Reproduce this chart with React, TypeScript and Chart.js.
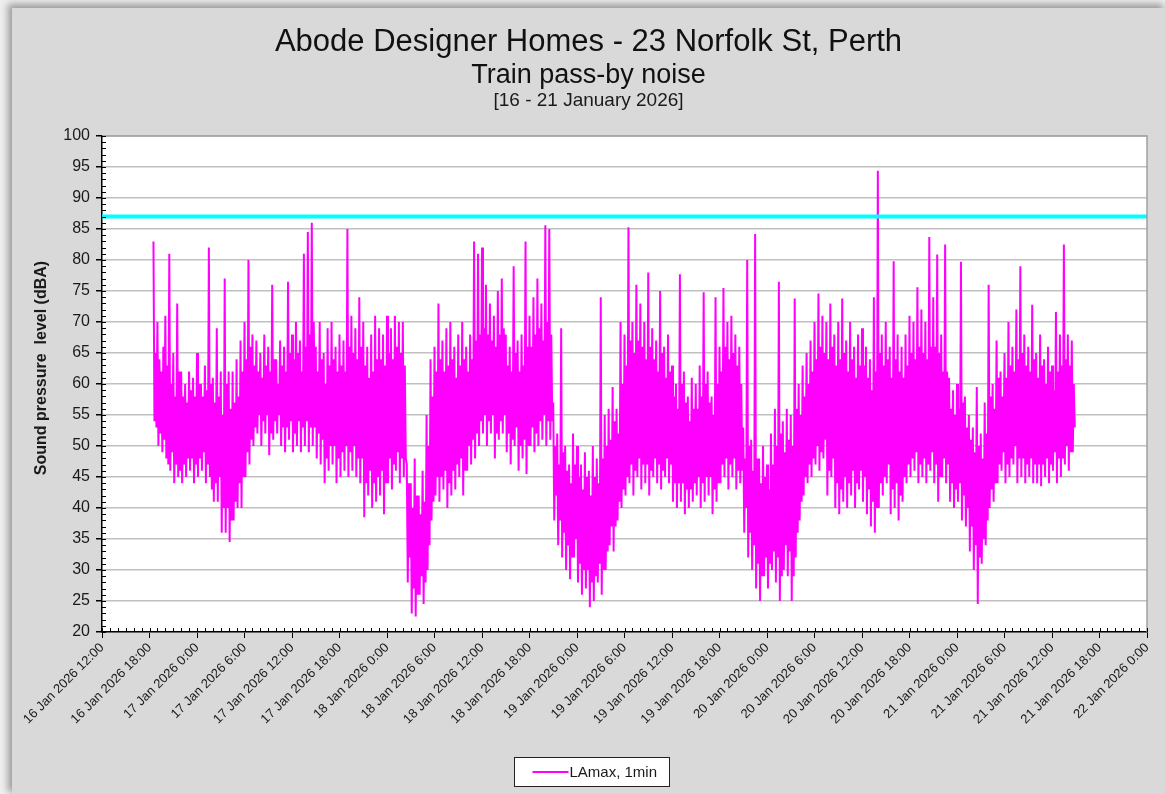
import React, { useEffect, useRef } from "react";
import { Chart, registerables } from "chart.js";

Chart.register(...registerables);

const titleLines = [
  "Abode Designer Homes - 23 Norfolk St, Perth",
  "Train pass-by noise",
  "[16 - 21 January 2026]",
];
const yAxisTitle = "Sound pressure  level (dBA)";
const legendLabel = "LAmax, 1min";

// x axis: hours counted from 16 Jan 2026 12:00
const xTickLabels = [
  "16 Jan 2026 12:00", "16 Jan 2026 18:00",
  "17 Jan 2026 0:00", "17 Jan 2026 6:00", "17 Jan 2026 12:00", "17 Jan 2026 18:00",
  "18 Jan 2026 0:00", "18 Jan 2026 6:00", "18 Jan 2026 12:00", "18 Jan 2026 18:00",
  "19 Jan 2026 0:00", "19 Jan 2026 6:00", "19 Jan 2026 12:00", "19 Jan 2026 18:00",
  "20 Jan 2026 0:00", "20 Jan 2026 6:00", "20 Jan 2026 12:00", "20 Jan 2026 18:00",
  "21 Jan 2026 0:00", "21 Jan 2026 6:00", "21 Jan 2026 12:00", "21 Jan 2026 18:00",
  "22 Jan 2026 0:00",
];
const xMin = 0;
const xMax = 132;
const xStep = 6;
const yMin = 20;
const yMax = 100;
const yStep = 5;

const limitLevel = 87;

// LAmax,1min read per 15-minute interval (highest, lowest), from 16 Jan 18:30
const seriesStartHour = 6.5;
const binHours = 0.25;
const binMax = [
  83, 65,
  70, 64, 62, 66, 71, 63, 81, 60, 65, 58, 73, 62, 62, 58, 60, 57, 62, 59, 61, 58,
  65, 60, 60, 58, 63, 59, 82, 60, 61, 57, 69, 58, 62, 55, 77, 60, 62, 56, 62, 57,
  64, 58, 67, 62, 70, 64, 80, 66, 68, 63, 67, 62, 65, 61, 68, 63, 66, 62, 76, 64,
  64, 60, 67, 63, 66, 62, 76.5, 65, 68, 64, 70, 65, 67, 62, 81, 66, 84.5, 68, 86, 70,
  66, 62, 70, 64, 65, 60, 69, 63, 70, 64, 66, 62, 68, 63, 67, 62, 85, 66, 71, 65,
  69, 64, 74, 66, 70, 63, 66, 61, 68, 62, 71, 64, 69, 64, 68, 63, 71, 65, 69, 64,
  71, 66, 70, 65, 70, 63, 47, 44, 44, 40, 48, 42, 42, 39, 46, 41, 55, 50, 64, 58,
  66, 62, 73, 64, 67, 62, 69, 63, 70, 64, 66, 61, 68, 63, 70, 64, 66, 62, 68, 64,
  83, 67, 81, 68, 82, 69, 76, 68, 73, 67, 71, 66, 75, 68, 77, 69, 68, 63, 66, 62,
  79, 65, 67, 62, 68, 63, 83, 66, 71, 66, 74, 68, 77, 69, 73, 67, 85.6, 70, 85, 68,
  57, 50, 52, 47, 69, 49, 50, 46, 47, 44, 52, 47, 50, 45, 47, 43, 49, 45, 46, 42,
  50, 45, 48, 44, 74, 48, 55, 50, 56, 51, 59.5, 54, 56, 52, 70, 60, 68, 63, 85.3, 67,
  70, 65, 76, 67, 73, 66, 70, 64, 78, 66, 69, 64, 67, 62, 75, 65, 66, 61, 68, 62,
  63, 58, 60, 56, 77.7, 60, 62, 57, 58, 54, 61, 56, 60, 56, 63, 58, 74.8, 60, 62, 57,
  58, 55, 74, 60, 66, 62, 75.5, 66, 70, 64, 71, 65, 68, 63, 66, 60, 53, 48, 80, 50,
  51, 46, 84.2, 48, 48, 44, 50, 45, 47, 43, 52, 47, 56, 50, 76.5, 52, 54, 49, 56, 51,
  55, 50, 73.8, 56, 60, 55, 63, 58, 65, 60, 67, 62, 70, 64, 74.6, 66, 71, 65, 70, 64,
  73, 66, 68, 63, 70, 64, 73.8, 65, 67, 62, 70, 64, 66, 61, 68, 63, 69, 63, 66, 61,
  64, 59, 74, 62, 94.4, 65, 68, 63, 70, 64, 66, 61, 79.8, 64, 68, 62, 66, 61, 68, 63,
  71, 65, 70, 64, 75.6, 66, 72, 65, 70, 64, 83.7, 66, 74, 66, 80.9, 65, 68, 62, 82.5, 62,
  61, 56, 59, 55, 60, 56, 79.7, 57, 58, 53, 55, 51, 53, 49, 59.5, 50, 52, 48, 57, 52,
  76, 58, 60, 56, 67, 61, 62, 58, 65, 61, 70, 63, 66, 62, 72, 64, 79, 65, 68, 63,
  66, 62, 72.8, 64, 65, 61, 68, 63, 64, 60, 66, 62, 63, 59, 71.6, 62, 68, 63, 82.5, 64,
  68, 63, 67, 60,
];
const binMin = [
  54, 53,
  50, 52, 49, 51, 48, 47, 46, 49, 44, 47, 45, 46, 44, 47, 45, 48, 46, 48, 44, 47,
  45, 48, 46, 49, 44, 47, 45, 43, 41, 44, 41, 45, 36, 40, 36, 40, 34.5, 38, 38, 41,
  40, 44, 40, 45, 45, 49, 47, 51, 50, 53, 52, 55, 50, 54, 52, 55, 48.5, 52, 51, 54,
  52, 55, 50, 53, 49, 53, 51, 54, 49, 52, 50, 54, 49, 53, 50, 54, 49, 53, 50, 53,
  48, 52, 47, 51, 44, 48, 46, 50, 47, 50, 44, 48, 45, 49, 46, 50, 45, 49, 46, 50,
  45, 48, 44, 48, 38.5, 44, 42, 46, 40, 44, 41, 45, 42, 46, 39, 44, 44, 48, 43, 47,
  46, 49, 44, 48, 45, 48, 28, 32, 23, 27, 22.5, 26, 26, 29, 24.5, 28, 30, 34, 38, 41,
  42, 45, 41, 45, 43, 46, 40, 44, 42, 46, 43, 47, 45, 48, 42, 46, 46, 50, 47, 51,
  48, 52, 50, 54, 52, 55, 50, 54, 52, 55, 48, 52, 51, 54, 52, 55, 49, 52, 47, 51,
  50, 53, 46, 50, 48, 51, 45.5, 50, 50, 53, 49, 52, 50, 54, 51, 55, 50, 54, 51, 54,
  38, 42, 34, 38, 32, 36, 30, 34, 28.5, 32, 32, 35, 28, 31, 26, 30, 27, 30, 24, 28,
  25, 29, 28, 31, 26, 30, 30, 33, 34, 37, 33, 37, 38, 41, 40, 43, 42, 45, 44, 47,
  42, 46, 45, 48, 43, 47, 44, 47, 42, 46, 45, 48, 44, 47, 43, 46, 45, 48, 44, 47,
  41, 44, 40, 44, 41, 44, 39, 43, 40, 43, 41, 44, 42, 45, 40, 44, 41, 45, 42, 45,
  39, 43, 41, 44, 44, 47, 45, 48, 43, 47, 45, 48, 43, 46, 44, 46, 36, 40, 32, 36,
  30, 34, 27, 31, 25, 29, 29, 32, 27, 31, 30, 33, 28, 32, 25, 29, 30, 34, 29, 33,
  25, 29, 32, 36, 38, 41, 42, 45, 44, 47, 45, 48, 47, 50, 46, 49, 48, 51, 42, 46,
  45, 48, 40, 44, 39, 43, 41, 45, 40, 44, 42, 46, 40, 44, 43, 46, 41, 45, 39, 43,
  37, 41, 36, 40, 40, 44, 42, 45, 44, 47, 39, 43, 40, 44, 38, 42, 41, 45, 44, 47,
  45, 48, 46, 49, 44, 47, 45, 48, 44, 47, 46, 49, 44, 47, 41, 45, 45, 48, 44, 47,
  41, 44, 40, 43, 41, 44, 38, 42, 37, 40, 33, 37, 30, 34, 24.5, 32, 31, 35, 34, 38,
  40, 43, 41, 44, 44, 47, 46, 49, 44, 47, 45, 48, 47, 50, 44, 48, 45, 48, 44, 47,
  45, 48, 44, 47, 44, 47, 43.5, 47, 45, 48, 44, 47, 46, 49, 44, 48, 45, 48, 47, 50,
  46, 49, 49, 53,
];

const FONT = "'Liberation Sans', Arial, sans-serif";

function buildSeries() {
  const pts: { x: number; y: number }[] = [];
  binMax.forEach((hi, i) => {
    const t = seriesStartHour + i * binHours;
    pts.push({ x: t, y: hi });
    pts.push({ x: t + binHours / 2, y: binMin[i] });
  });
  return pts;
}

const decorPlugin = {
  id: "decor",
  beforeDraw(chart: any) {
    const { ctx, chartArea: a } = chart;
    ctx.save();
    ctx.fillStyle = "#ffffff";
    ctx.fillRect(a.left, a.top, a.right - a.left, a.bottom - a.top);
    ctx.restore();
  },
  afterDraw(chart: any) {
    const { ctx, chartArea: a } = chart;
    const xs = chart.scales.x;
    const ys = chart.scales.y;
    ctx.save();
    // top & right frame
    ctx.strokeStyle = "#a0a0a0";
    ctx.lineWidth = 1.5;
    ctx.beginPath();
    ctx.moveTo(a.left, a.top);
    ctx.lineTo(a.right, a.top);
    ctx.lineTo(a.right, a.bottom);
    ctx.stroke();
    // minor ticks
    ctx.strokeStyle = "#000";
    ctx.lineWidth = 1;
    ctx.beginPath();
    for (let v = yMin; v <= yMax; v += 1) {
      const y = Math.round(ys.getPixelForValue(v)) + 0.5;
      ctx.moveTo(a.left, y);
      ctx.lineTo(a.left + 4, y);
    }
    for (let h = xMin; h <= xMax; h += 1) {
      const x = Math.round(xs.getPixelForValue(h)) + 0.5;
      ctx.moveTo(x, a.bottom);
      ctx.lineTo(x, a.bottom - 4);
    }
    ctx.stroke();

    // titles
    const cx = chart.width / 2;
    ctx.fillStyle = "#111";
    ctx.textAlign = "center";
    ctx.textBaseline = "alphabetic";
    ctx.font = `31px ${FONT}`;
    ctx.fillText(titleLines[0], cx, 43);
    ctx.font = `27px ${FONT}`;
    ctx.fillText(titleLines[1], cx, 75);
    ctx.font = `19px ${FONT}`;
    ctx.fillStyle = "#1a1a1a";
    ctx.fillText(titleLines[2], cx, 98);

    // y axis title
    ctx.save();
    ctx.translate(29.5, 360);
    ctx.rotate(-Math.PI / 2);
    ctx.font = `bold 16px ${FONT}`;
    ctx.fillStyle = "#1a1a1a";
    ctx.textAlign = "center";
    ctx.textBaseline = "middle";
    ctx.fillText(yAxisTitle, 0, 0);
    ctx.restore();

    // legend
    const lx = Math.round(cx - 75) + 0.5;
    const ly = 749.5;
    ctx.fillStyle = "#ffffff";
    ctx.fillRect(lx, ly, 155, 29);
    ctx.strokeStyle = "#222";
    ctx.lineWidth = 1;
    ctx.strokeRect(lx, ly, 155, 29);
    ctx.strokeStyle = "#ff00ff";
    ctx.lineWidth = 2;
    ctx.beginPath();
    ctx.moveTo(lx + 18, 764);
    ctx.lineTo(lx + 54, 764);
    ctx.stroke();
    ctx.fillStyle = "#1a1a1a";
    ctx.font = `15px ${FONT}`;
    ctx.textAlign = "left";
    ctx.textBaseline = "middle";
    ctx.fillText(legendLabel, lx + 55, 765);
    ctx.restore();
  },
};

export default function App() {
  const ref = useRef<HTMLCanvasElement | null>(null);

  useEffect(() => {
    if (!ref.current) return;
    const chart = new Chart(ref.current, {
      type: "line",
      data: {
        datasets: [
          {
            label: "Limit",
            data: [
              { x: xMin, y: limitLevel },
              { x: xMax, y: limitLevel },
            ],
            borderColor: "#00ffff",
            backgroundColor: "#00ffff",
            borderWidth: 4,
            pointRadius: 0,
          },
          {
            label: legendLabel,
            data: buildSeries(),
            borderColor: "#ff00ff",
            backgroundColor: "#ff00ff",
            borderWidth: 2,
            pointRadius: 0,
            tension: 0,
          },
        ],
      },
      options: {
        responsive: false,
        animation: false,
        devicePixelRatio: 1,
        layout: { padding: { top: 128, left: 0, right: 18, bottom: 52 } },
        plugins: {
          legend: { display: false },
          title: { display: false },
          tooltip: { enabled: false },
        },
        scales: {
          x: {
            type: "linear",
            min: xMin,
            max: xMax,
            afterFit: (s: any) => {
              s.height = 110;
            },
            afterBuildTicks: (s: any) => {
              s.ticks = xTickLabels.map((_, i) => ({ value: xMin + i * xStep }));
            },
            ticks: {
              autoSkip: false,
              maxRotation: 45,
              minRotation: 45,
              padding: 2,
              color: "#1a1a1a",
              font: { family: FONT, size: 13 },
              callback: (v: any) => xTickLabels[Math.round((Number(v) - xMin) / xStep)] ?? "",
            },
            grid: {
              drawOnChartArea: false,
              drawTicks: true,
              tickLength: 6,
              tickColor: "#000",
              color: "#000",
            },
            border: { display: true, color: "#000", width: 1.5 },
          },
          y: {
            min: yMin,
            max: yMax,
            afterFit: (s: any) => {
              s.width = 90;
            },
            ticks: {
              stepSize: yStep,
              padding: 6,
              color: "#1a1a1a",
              font: { family: FONT, size: 16 },
            },
            grid: {
              color: "#c0c0c0",
              lineWidth: 1.5,
              drawTicks: true,
              tickLength: 6,
              tickColor: "#000",
            },
            border: { display: true, color: "#000", width: 1.5 },
          },
        },
      },
      plugins: [decorPlugin],
    });
    return () => chart.destroy();
  }, []);

  return (
    <div
      style={{
        position: "fixed",
        left: 0,
        top: 0,
        width: 1165,
        height: 794,
        background: "#eeeeee",
        overflow: "hidden",
      }}
    >
      <div
        style={{
          position: "absolute",
          left: 12,
          top: 8,
          width: 1153,
          height: 786,
          background: "#d9d9d9",
          boxShadow: "-3px -3px 7px 1px rgba(0,0,0,0.35)",
        }}
      >
        <canvas ref={ref} width={1153} height={786} style={{ display: "block" }} />
      </div>
    </div>
  );
}
